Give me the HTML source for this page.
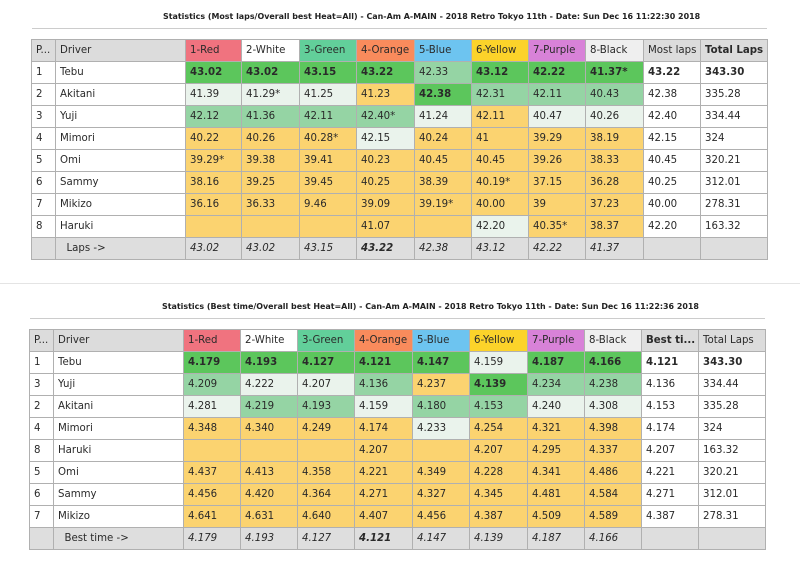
<!DOCTYPE html>
<html><head><meta charset="utf-8"><style>
body{margin:0;width:800px;height:587px;background:#fff;font-family:"DejaVu Sans","Liberation Sans",sans-serif;position:relative;overflow:hidden}
.t{position:absolute;font-size:7.95px;font-weight:bold;color:#222;white-space:nowrap}
.hr{position:absolute;height:1px;background:#ccc}
table{position:absolute;border-collapse:collapse;table-layout:fixed;font-size:10.2px;color:#2a2a2a}
td{border:1px solid #b0b0b0;height:21px;padding:0 0 0 4px;white-space:nowrap;overflow:hidden}
.h{background:#dcdcdc}
.G{background:#5cc65c}.M{background:#95d4a4}.L{background:#eaf3ec}.Y{background:#fbd370}
.b{font-weight:bold}.i{font-style:italic}
.r{background:#f0737f}.w{background:#fff}.g{background:#62cf9a}.o{background:#f98b5c}.bl{background:#6dc4f0}.y{background:#fcd32a}.p{background:#d882d8}.k{background:#efefef}
.f td{background:#dedede}
</style></head><body>
<div class="t" style="left:163px;top:12px">Statistics (Most laps/Overall best Heat=All) - Can-Am A-MAIN - 2018 Retro Tokyo 11th - Date: Sun Dec 16 11:22:30 2018</div>
<div class="hr" style="left:32px;top:28px;width:735px"></div>
<table style="left:31px;top:39px;width:736px">
<colgroup><col style="width:24px"><col style="width:130px"><col style="width:56px"><col style="width:58px"><col style="width:57px"><col style="width:58px"><col style="width:57px"><col style="width:57px"><col style="width:57px"><col style="width:58px"><col style="width:57px"><col style="width:67px"></colgroup>
<tr><td class="h">P...</td><td class="h">Driver</td><td class="r">1-Red</td><td class="w">2-White</td><td class="g">3-Green</td><td class="o">4-Orange</td><td class="bl">5-Blue</td><td class="y">6-Yellow</td><td class="p">7-Purple</td><td class="k">8-Black</td><td class="h">Most laps</td><td class="h b">Total Laps</td></tr>
<tr><td>1</td><td>Tebu</td><td class="G b">43.02</td><td class="G b">43.02</td><td class="G b">43.15</td><td class="G b">43.22</td><td class="M">42.33</td><td class="G b">43.12</td><td class="G b">42.22</td><td class="G b">41.37*</td><td class="b">43.22</td><td class="b">343.30</td></tr>
<tr><td>2</td><td>Akitani</td><td class="L">41.39</td><td class="L">41.29*</td><td class="L">41.25</td><td class="Y">41.23</td><td class="G b">42.38</td><td class="M">42.31</td><td class="M">42.11</td><td class="M">40.43</td><td>42.38</td><td>335.28</td></tr>
<tr><td>3</td><td>Yuji</td><td class="M">42.12</td><td class="M">41.36</td><td class="M">42.11</td><td class="M">42.40*</td><td class="L">41.24</td><td class="Y">42.11</td><td class="L">40.47</td><td class="L">40.26</td><td>42.40</td><td>334.44</td></tr>
<tr><td>4</td><td>Mimori</td><td class="Y">40.22</td><td class="Y">40.26</td><td class="Y">40.28*</td><td class="L">42.15</td><td class="Y">40.24</td><td class="Y">41</td><td class="Y">39.29</td><td class="Y">38.19</td><td>42.15</td><td>324</td></tr>
<tr><td>5</td><td>Omi</td><td class="Y">39.29*</td><td class="Y">39.38</td><td class="Y">39.41</td><td class="Y">40.23</td><td class="Y">40.45</td><td class="Y">40.45</td><td class="Y">39.26</td><td class="Y">38.33</td><td>40.45</td><td>320.21</td></tr>
<tr><td>6</td><td>Sammy</td><td class="Y">38.16</td><td class="Y">39.25</td><td class="Y">39.45</td><td class="Y">40.25</td><td class="Y">38.39</td><td class="Y">40.19*</td><td class="Y">37.15</td><td class="Y">36.28</td><td>40.25</td><td>312.01</td></tr>
<tr><td>7</td><td>Mikizo</td><td class="Y">36.16</td><td class="Y">36.33</td><td class="Y">9.46</td><td class="Y">39.09</td><td class="Y">39.19*</td><td class="Y">40.00</td><td class="Y">39</td><td class="Y">37.23</td><td>40.00</td><td>278.31</td></tr>
<tr><td>8</td><td>Haruki</td><td class="Y"></td><td class="Y"></td><td class="Y"></td><td class="Y">41.07</td><td class="Y"></td><td class="L">42.20</td><td class="Y">40.35*</td><td class="Y">38.37</td><td>42.20</td><td>163.32</td></tr>
<tr class="f"><td></td><td>&nbsp;&nbsp;Laps -&gt;</td><td class="i">43.02</td><td class="i">43.02</td><td class="i">43.15</td><td class="i b">43.22</td><td class="i">42.38</td><td class="i">43.12</td><td class="i">42.22</td><td class="i">41.37</td><td></td><td></td></tr>
</table>
<div class="hr" style="left:0;top:283px;width:800px;background:#e4e4e4"></div>
<div class="t" style="left:162px;top:302px">Statistics (Best time/Overall best Heat=All) - Can-Am A-MAIN - 2018 Retro Tokyo 11th - Date: Sun Dec 16 11:22:36 2018</div>
<div class="hr" style="left:30px;top:318px;width:735px"></div>
<table style="left:29px;top:329px;width:737px">
<colgroup><col style="width:24px"><col style="width:130px"><col style="width:57px"><col style="width:57px"><col style="width:57px"><col style="width:58px"><col style="width:57px"><col style="width:58px"><col style="width:57px"><col style="width:57px"><col style="width:57px"><col style="width:67px"></colgroup>
<tr><td class="h">P...</td><td class="h">Driver</td><td class="r">1-Red</td><td class="w">2-White</td><td class="g">3-Green</td><td class="o">4-Orange</td><td class="bl">5-Blue</td><td class="y">6-Yellow</td><td class="p">7-Purple</td><td class="k">8-Black</td><td class="h b">Best ti...</td><td class="h">Total Laps</td></tr>
<tr><td>1</td><td>Tebu</td><td class="G b">4.179</td><td class="G b">4.193</td><td class="G b">4.127</td><td class="G b">4.121</td><td class="G b">4.147</td><td class="L">4.159</td><td class="G b">4.187</td><td class="G b">4.166</td><td class="b">4.121</td><td class="b">343.30</td></tr>
<tr><td>3</td><td>Yuji</td><td class="M">4.209</td><td class="L">4.222</td><td class="L">4.207</td><td class="M">4.136</td><td class="Y">4.237</td><td class="G b">4.139</td><td class="M">4.234</td><td class="M">4.238</td><td>4.136</td><td>334.44</td></tr>
<tr><td>2</td><td>Akitani</td><td class="L">4.281</td><td class="M">4.219</td><td class="M">4.193</td><td class="L">4.159</td><td class="M">4.180</td><td class="M">4.153</td><td class="L">4.240</td><td class="L">4.308</td><td>4.153</td><td>335.28</td></tr>
<tr><td>4</td><td>Mimori</td><td class="Y">4.348</td><td class="Y">4.340</td><td class="Y">4.249</td><td class="Y">4.174</td><td class="L">4.233</td><td class="Y">4.254</td><td class="Y">4.321</td><td class="Y">4.398</td><td>4.174</td><td>324</td></tr>
<tr><td>8</td><td>Haruki</td><td class="Y"></td><td class="Y"></td><td class="Y"></td><td class="Y">4.207</td><td class="Y"></td><td class="Y">4.207</td><td class="Y">4.295</td><td class="Y">4.337</td><td>4.207</td><td>163.32</td></tr>
<tr><td>5</td><td>Omi</td><td class="Y">4.437</td><td class="Y">4.413</td><td class="Y">4.358</td><td class="Y">4.221</td><td class="Y">4.349</td><td class="Y">4.228</td><td class="Y">4.341</td><td class="Y">4.486</td><td>4.221</td><td>320.21</td></tr>
<tr><td>6</td><td>Sammy</td><td class="Y">4.456</td><td class="Y">4.420</td><td class="Y">4.364</td><td class="Y">4.271</td><td class="Y">4.327</td><td class="Y">4.345</td><td class="Y">4.481</td><td class="Y">4.584</td><td>4.271</td><td>312.01</td></tr>
<tr><td>7</td><td>Mikizo</td><td class="Y">4.641</td><td class="Y">4.631</td><td class="Y">4.640</td><td class="Y">4.407</td><td class="Y">4.456</td><td class="Y">4.387</td><td class="Y">4.509</td><td class="Y">4.589</td><td>4.387</td><td>278.31</td></tr>
<tr class="f"><td></td><td>&nbsp;&nbsp;Best time -&gt;</td><td class="i">4.179</td><td class="i">4.193</td><td class="i">4.127</td><td class="i b">4.121</td><td class="i">4.147</td><td class="i">4.139</td><td class="i">4.187</td><td class="i">4.166</td><td></td><td></td></tr>
</table>
</body></html>
